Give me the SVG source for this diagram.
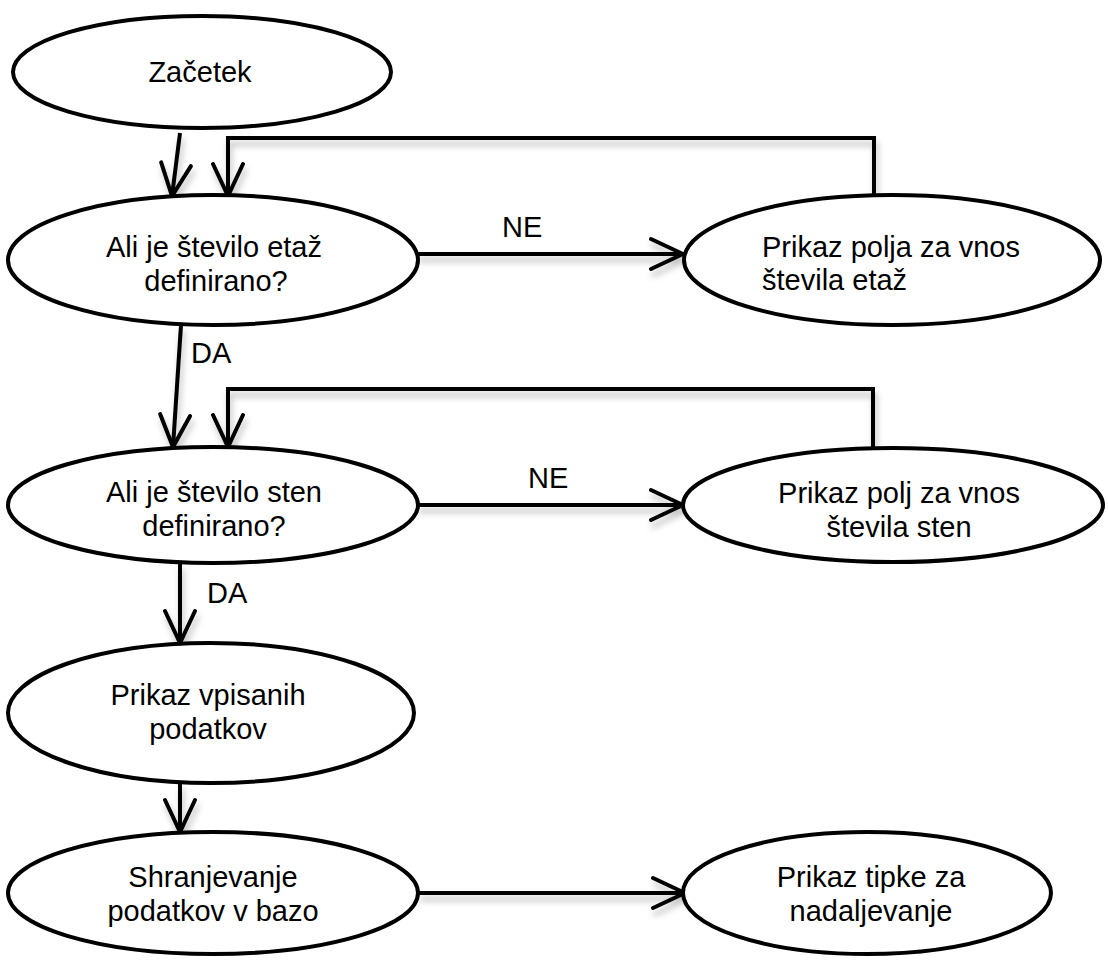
<svg xmlns="http://www.w3.org/2000/svg" width="1108" height="962" viewBox="0 0 1108 962">
<style>
.node ellipse{fill:#fff;stroke:#000;stroke-width:4}
.node text, .lbl{font-family:"Liberation Sans",Arial,sans-serif;font-size:29px;fill:#000}
.c{text-anchor:middle}
.conn path{fill:none;stroke:#000;stroke-width:4;marker-end:url(#arr)}
</style>
<defs>
<marker id="arr" markerUnits="userSpaceOnUse" markerWidth="44" markerHeight="40" refX="40" refY="20" orient="auto" viewBox="0 0 44 40">
<path d="M8,5 L40,20 L8,35" fill="none" stroke="#000" stroke-width="4" stroke-linecap="round" stroke-linejoin="miter"/>
</marker>
<filter id="sh" x="-10%" y="-10%" width="120%" height="140%">
<feDropShadow dx="2" dy="6" stdDeviation="3" flood-color="#000" flood-opacity="0.25"/>
</filter>
</defs>
<rect width="1108" height="962" fill="#fff"/>
<g id="connectors" class="conn" filter="url(#sh)">
<path d="M180,133 L172,196"/>
<path d="M874,195 L874,138 L228,138 L228,196"/>
<path d="M417,254 L683,254"/>
<path d="M181,325 L173,447"/>
<path d="M873,448 L873,389 L228,389 L228,447"/>
<path d="M417,505 L683,505"/>
<path d="M180,563 L180,643"/>
<path d="M180,783 L180,832"/>
<path d="M418,893 L685,893"/>
</g>
<g id="lbl-ne1"><text class="lbl" x="502" y="237">NE</text></g>
<g id="lbl-da1"><text class="lbl" x="191" y="363">DA</text></g>
<g id="lbl-ne2"><text class="lbl" x="528" y="488">NE</text></g>
<g id="lbl-da2"><text class="lbl" x="207" y="603">DA</text></g>
<g id="n-zacetek" class="node">
<ellipse cx="202" cy="72" rx="189" ry="56"/>
<text class="c" x="200" y="82">Začetek</text>
</g>
<g id="n-etaz" class="node">
<ellipse cx="213" cy="260" rx="205" ry="65"/>
<text class="c" x="214" y="257">Ali je število etaž</text>
<text class="c" x="216" y="291">definirano?</text>
</g>
<g id="n-polje-etaz" class="node">
<ellipse cx="892" cy="260" rx="208" ry="65"/>
<text x="762" y="257">Prikaz polja za vnos</text>
<text x="762" y="290">števila etaž</text>
</g>
<g id="n-sten" class="node">
<ellipse cx="213" cy="505" rx="205" ry="58"/>
<text class="c" x="214" y="502">Ali je število sten</text>
<text class="c" x="214" y="536">definirano?</text>
</g>
<g id="n-polje-sten" class="node">
<ellipse cx="893" cy="505" rx="210" ry="57"/>
<text class="c" x="899" y="503">Prikaz polj za vnos</text>
<text class="c" x="899" y="537">števila sten</text>
</g>
<g id="n-vpisani" class="node">
<ellipse cx="211" cy="713" rx="203" ry="70"/>
<text class="c" x="208" y="705">Prikaz vpisanih</text>
<text class="c" x="208" y="739">podatkov</text>
</g>
<g id="n-shranjevanje" class="node">
<ellipse cx="213" cy="893" rx="205" ry="61"/>
<text class="c" x="213" y="887">Shranjevanje</text>
<text class="c" x="213" y="921">podatkov v bazo</text>
</g>
<g id="n-tipka" class="node">
<ellipse cx="867" cy="893" rx="184" ry="61"/>
<text class="c" x="871" y="887">Prikaz tipke za</text>
<text class="c" x="871" y="921">nadaljevanje</text>
</g>
</svg>
